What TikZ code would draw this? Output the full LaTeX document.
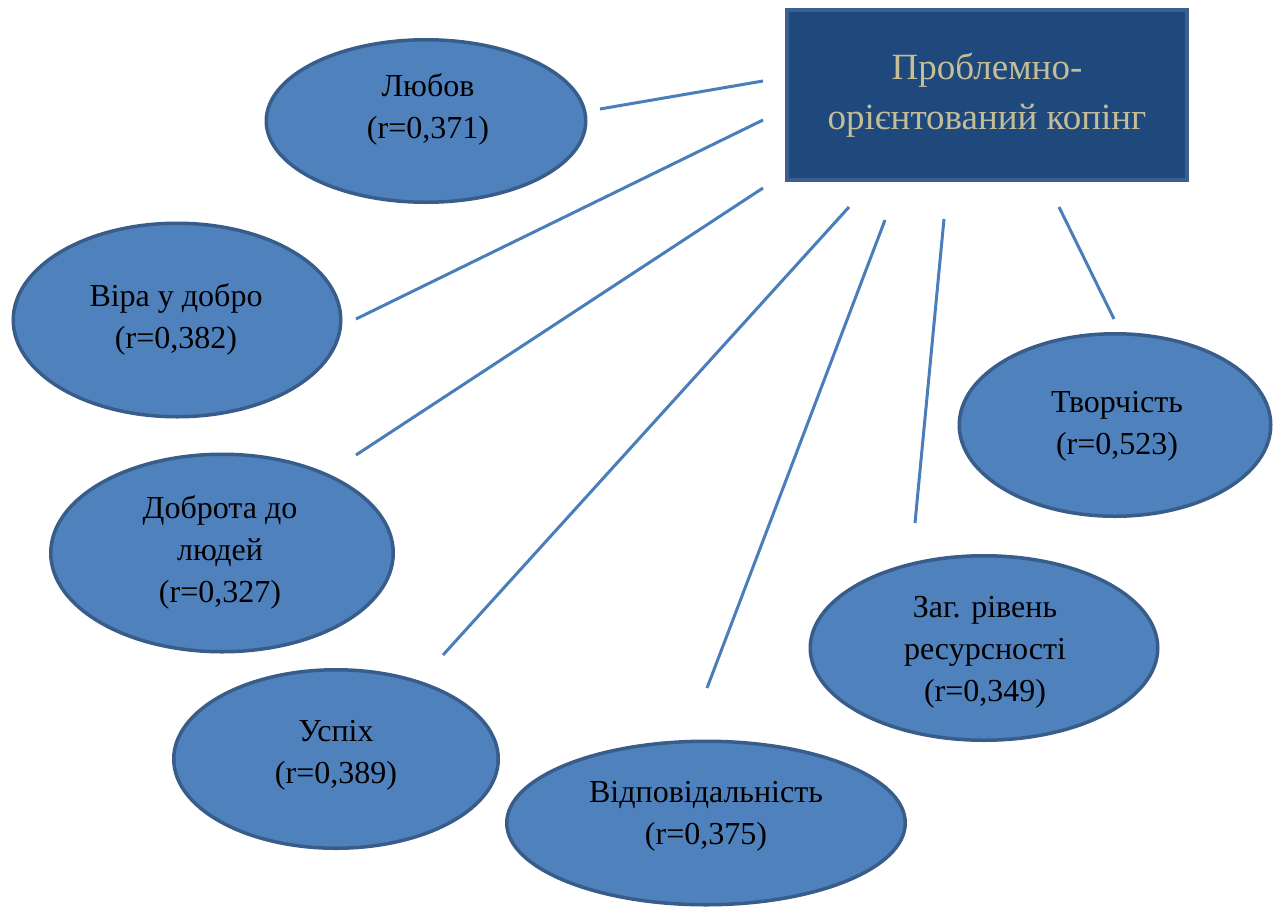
\documentclass[tikz,border=0pt]{standalone}
\usepackage{fontspec}
\setmainfont{Liberation Serif}
\usetikzlibrary{shapes.geometric}
\definecolor{ellfill}{HTML}{4F81BD}
\definecolor{ellline}{HTML}{385D8A}
\definecolor{boxfill}{HTML}{1F497D}
\definecolor{boxline}{HTML}{3B5F8E}
\definecolor{boxtext}{HTML}{C4BD97}
\definecolor{linkcol}{HTML}{4A7EBB}
\tikzset{
  ell/.style={ellipse, draw=ellline, fill=ellfill, line width=1.75pt, inner sep=0pt},
  lbl/.style={align=center, inner sep=0pt, font=\fontsize{16pt}{21pt}\selectfont, text=black},
  mainbox/.style={rectangle, draw=boxline, fill=boxfill, line width=2pt, inner sep=0pt,
    minimum width=200pt, minimum height=85pt, align=center, text=boxtext,
    font=\fontsize{18.5pt}{25pt}\selectfont},
  link/.style={draw=linkcol, line width=1.5pt}
}
\begin{document}
\begin{tikzpicture}[x=0.5pt, y=-0.5pt]
\useasboundingbox (0,0) rectangle (1280,911);
% main box
\node[mainbox] (pc) at (987,95) {Проблемно-\\орієнтований копінг};
% ellipses
\node[ell, minimum width=159.75pt, minimum height=81.25pt] (e1) at (426,121) {};
\node[ell, minimum width=163.75pt, minimum height=96.75pt] (e2) at (177,320) {};
\node[ell, minimum width=171.25pt, minimum height=98.75pt] (e3) at (222,553) {};
\node[ell, minimum width=162.25pt, minimum height=89.25pt] (e4) at (336,759) {};
\node[ell, minimum width=199.25pt, minimum height=81.75pt] (e5) at (706,823) {};
\node[ell, minimum width=173.75pt, minimum height=92.25pt] (e6) at (984,648) {};
\node[ell, minimum width=155.75pt, minimum height=91.25pt] (e7) at (1115,425) {};
% labels
\node[lbl] (t1) at (428,109) {Любов\\(r=0,371)};
\node[lbl] (t2) at (176,319) {Віра у добро\\(r=0,382)};
\node[lbl] (t3) at (220,552) {Доброта до\\людей\\(r=0,327)};
\node[lbl] (t4) at (336,755) {Успіх\\(r=0,389)};
\node[lbl] (t5) at (706,816) {Відповідальність\\(r=0,375)};
\node[lbl] (t6) at (985,652) {Заг. рівень\\ресурсності\\(r=0,349)};
\node[lbl] (t7) at (1117,426) {Творчість\\(r=0,523)};
% connector end points
\coordinate (a1) at (763,81);   \coordinate (b1) at (600,109);
\coordinate (a2) at (763,120);  \coordinate (b2) at (356,319);
\coordinate (a3) at (763,188);  \coordinate (b3) at (356,455);
\coordinate (a4) at (849,207);  \coordinate (b4) at (443,655);
\coordinate (a5) at (885,220);  \coordinate (b5) at (707,688);
\coordinate (a6) at (944,219);  \coordinate (b6) at (915,523);
\coordinate (a7) at (1059,207); \coordinate (b7) at (1114,319);
\foreach \i in {1,...,7} { \draw[link] (a\i) -- (b\i); }
\end{tikzpicture}
\end{document}
